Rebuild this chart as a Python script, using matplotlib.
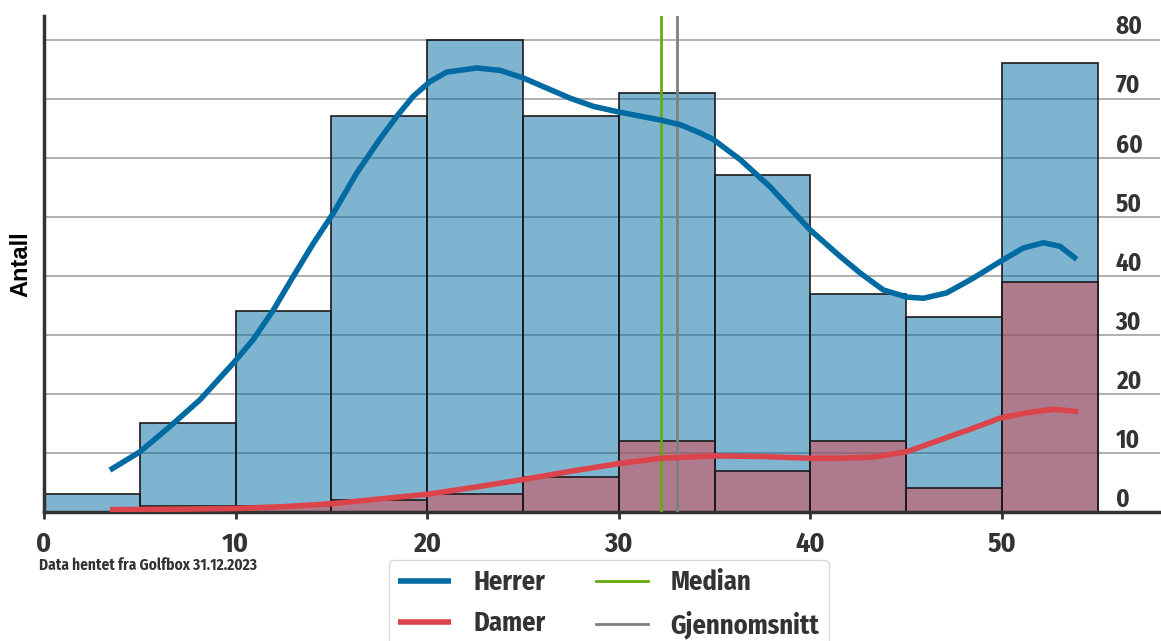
import numpy as np
import matplotlib
matplotlib.use('Agg')
from matplotlib import pyplot as plt

# histogram (bin edges of width 5) and counts
edges = [0, 5, 10, 15, 20, 25, 30, 35, 40, 45, 50, 55]
herrer = [3, 15, 34, 67, 80, 67, 71, 57, 37, 33, 76]
damer = [0, 1, 1, 2, 3, 6, 12, 7, 12, 4, 39]

# density curves, read point by point
herrer_kde_x = [3.44, 5.01, 6.58, 8.14, 9.88, 10.92, 11.97, 13.01, 14.06,
                15.10, 16.32, 17.54, 18.41, 19.27, 20.15, 21.02, 22.58, 23.8,
                25.02, 26.23, 27.45, 28.67, 30.06, 32.15, 33.2, 34.24, 34.93,
                36.33, 37.89, 39.98, 41.55, 42.59, 43.81, 45.03, 45.9, 47.11,
                48.5, 49.9, 51.11, 52.16, 53.03, 53.9]
herrer_kde_y = [7.1, 10.2, 14.5, 19.0, 25.2, 29.2, 34.2, 39.9, 45.5,
                50.6, 57.4, 63.2, 67.0, 70.4, 72.9, 74.5, 75.2, 74.8,
                73.5, 71.8, 70.1, 68.7, 67.7, 66.4, 65.6, 64.2, 63.1,
                59.7, 55.1, 47.8, 43.3, 40.5, 37.6, 36.4, 36.2, 37.1,
                39.6, 42.4, 44.7, 45.6, 45.0, 42.8]
damer_kde_x = [3.44, 7.5, 10.0, 12.5, 15.0, 17.5, 20.0, 22.5, 25.0, 27.5,
               30.0, 32.2, 35.0, 37.5, 40.0, 41.55, 43.28, 45.03, 46.77,
               48.5, 49.9, 51.29, 52.68, 53.98]
damer_kde_y = [0.4, 0.5, 0.6, 0.9, 1.4, 2.2, 3.0, 4.2, 5.5, 6.9,
               8.2, 9.1, 9.5, 9.4, 9.1, 9.1, 9.3, 10.2, 12.2,
               14.2, 15.9, 16.8, 17.4, 17.0]

median = 32.22
mean = 33.05

blue = '#006BA2'
red = '#DB444B'
green = '#66AA11'
grey = '#808080'
txt = '#333333'
cond = ['Fira Sans Condensed', 'DejaVu Sans']

fig = plt.figure(figsize=(11.61, 6.41), dpi=100)
ax = fig.add_axes([44 / 1161, 129 / 641, 1116 / 1161, 496 / 641])

lefts = edges[:-1]
ax.bar(lefts, herrer, width=5, align='edge', color=blue, alpha=0.5,
       edgecolor='none', zorder=2)
ax.bar(lefts, herrer, width=5, align='edge', fill=False,
       edgecolor='#1a1a1a', linewidth=1.2, zorder=2.1)
ax.bar(lefts, damer, width=5, align='edge', color=red, alpha=0.5,
       edgecolor='none', zorder=2.2)
ax.bar(lefts, damer, width=5, align='edge', fill=False,
       edgecolor='#1a1a1a', linewidth=1.2, zorder=2.3)

ax.axvline(median, color=green, lw=2, zorder=3, label='Median')
ax.axvline(mean, color=grey, lw=2, zorder=3, label='Gjennomsnitt')
ax.plot(herrer_kde_x, herrer_kde_y, color=blue, lw=4, zorder=4,
        solid_capstyle='butt', solid_joinstyle='round', label='Herrer')
ax.plot(damer_kde_x, damer_kde_y, color=red, lw=4, zorder=4,
        solid_capstyle='butt', solid_joinstyle='round', label='Damer')

ax.set_xlim(0, 58.25)
ax.set_ylim(0, 84)
ax.set_xticks([0, 10, 20, 30, 40, 50])
ax.set_yticks(range(0, 81, 10))
ax.grid(axis='y', color='#b0b0b0', lw=1.4, zorder=0)
ax.set_axisbelow(True)

for s in ['top', 'right']:
    ax.spines[s].set_visible(False)
for s in ['left', 'bottom']:
    ax.spines[s].set_color(txt)
    ax.spines[s].set_linewidth(2.5)

ax.yaxis.tick_right()
ax.tick_params(axis='y', length=0, pad=-32, labelcolor=txt, labelsize=18)
for lab in ax.get_yticklabels():
    lab.set_verticalalignment('bottom')
    lab.set_family(cond)
    lab.set_weight('bold')
ax.tick_params(axis='x', length=5, width=2, color=txt, pad=9,
               labelcolor=txt, labelsize=20)
for lab in ax.get_xticklabels():
    lab.set_family(cond)
    lab.set_weight('bold')

ax.yaxis.set_label_position('left')
ax.set_ylabel('Antall', fontsize=17, fontweight='bold',
              family=['Liberation Sans', 'DejaVu Sans'])
ax.yaxis.set_label_coords(-0.0105, 0.5)

fig.text(39 / 1161, 1 - 565 / 641, 'Data hentet fra Golfbox 31.12.2023',
         fontsize=11, fontweight='bold', color=txt, family=cond, va='center')

h, l = ax.get_legend_handles_labels()
order = [2, 3, 0, 1]
leg = ax.legend([h[i] for i in order], [l[i] for i in order], ncol=2,
                loc='upper center', bbox_to_anchor=(0.506, -0.097),
                borderaxespad=0,
                prop={'family': cond, 'weight': 'bold', 'size': 19},
                handlelength=2.0, handletextpad=0.85, columnspacing=1.9,
                labelspacing=0.55, frameon=True, fancybox=True,
                edgecolor='#cccccc', borderpad=0.35)
for t in leg.get_texts():
    t.set_color(txt)

fig.savefig('out.png', dpi=100)
